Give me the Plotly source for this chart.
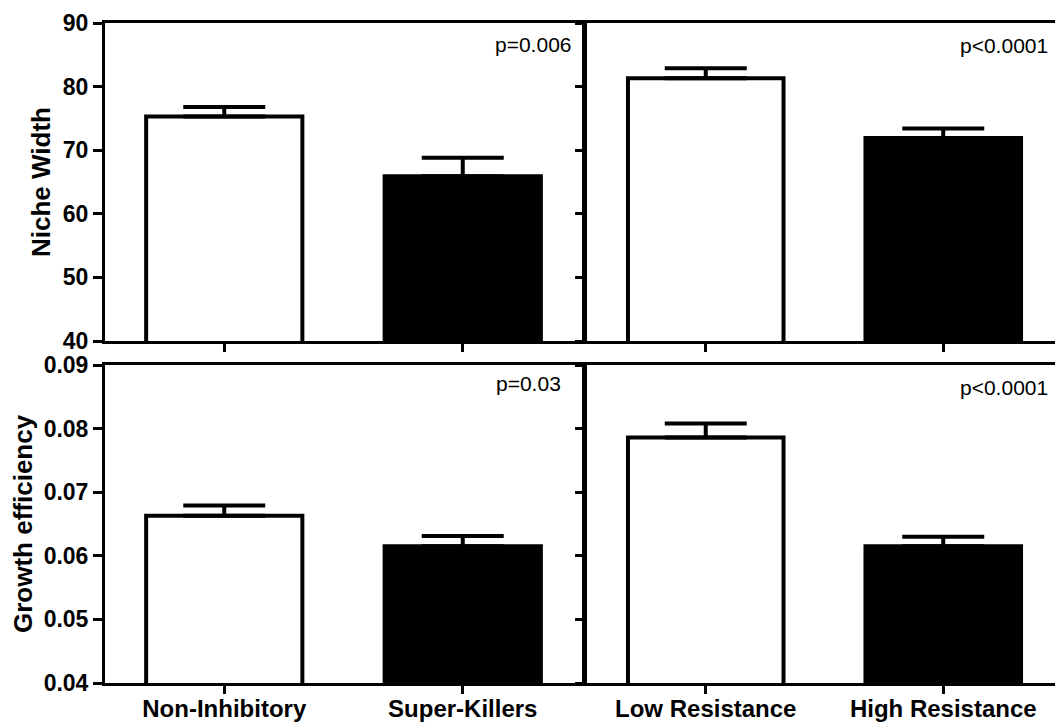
import plotly.graph_objects as go

# ---- data ----
cats_left = ["Non-Inhibitory", "Super-Killers"]
cats_right = ["Low Resistance", "High Resistance"]
niche_left = [75.3, 65.9]
niche_left_err = [1.5, 2.9]
niche_right = [81.3, 71.9]
niche_right_err = [1.6, 1.5]
growth_left = [0.0663, 0.0615]
growth_left_err = [0.0016, 0.0016]
growth_right = [0.0786, 0.0615]
growth_right_err = [0.0022, 0.0015]
p_labels = ["p=0.006", "p<0.0001", "p=0.03", "p<0.0001"]
niche_ticks = [40, 50, 60, 70, 80, 90]
growth_ticks = [0.04, 0.05, 0.06, 0.07, 0.08, 0.09]
colors = ["white", "black"]

FONT = "Liberation Sans, Arial, sans-serif"
OFF = 8  # page body margin
W, H = 1063 - OFF, 722 - OFF
ML, MR, MT, MB = 105 - OFF, 1, 23 - OFF, 722 - 683
PW = W - ML - MR
PH = H - MT - MB

def px_x(p):
    return (p - OFF - ML) / PW

def px_y(p):
    return (H - MB - (p - OFF)) / PH

fig = go.Figure()

panels = [
    (cats_left, niche_left, niche_left_err, "x", "y"),
    (cats_right, niche_right, niche_right_err, "x2", "y2"),
    (cats_left, growth_left, growth_left_err, "x3", "y3"),
    (cats_right, growth_right, growth_right_err, "x4", "y4"),
]
for cats, vals, errs, xa, ya in panels:
    fig.add_trace(go.Bar(
        x=cats, y=vals, width=0.655,
        marker=dict(color=colors, line=dict(color="black", width=4)),
        error_y=dict(type="data", symmetric=False, array=errs,
                     arrayminus=[0] * len(errs), color="black",
                     thickness=4, width=41),
        xaxis=xa, yaxis=ya, showlegend=False,
    ))

left_dom = [0, px_x(582)]
right_dom = [px_x(587), 1]
top_dom = [px_y(341), 1]
bot_dom = [0, px_y(365)]

common_x = dict(type="category", range=[-0.5, 1.5], showline=True, linewidth=3,
                linecolor="black", mirror=True, ticks="outside", ticklen=8,
                tickwidth=3, tickcolor="black", showgrid=False, zeroline=False,
                automargin=False, ticklabelstandoff=-6,
                tickfont=dict(family=FONT, size=24, color="black", weight="bold"))
common_y = dict(showline=True, linewidth=3, linecolor="black", mirror=True,
                ticks="outside", ticklen=9, tickwidth=3, tickcolor="black",
                showgrid=False, zeroline=False, automargin=False,
                tickfont=dict(family=FONT, size=23, color="black", weight="bold"))

fig.update_layout(
    width=W, height=H,
    margin=dict(l=ML, r=MR, t=MT, b=MB),
    paper_bgcolor="white", plot_bgcolor="white",
    font=dict(family=FONT, color="black"),
    xaxis=dict(common_x, domain=left_dom, anchor="y", showticklabels=False),
    xaxis2=dict(common_x, domain=right_dom, anchor="y2", showticklabels=False),
    xaxis3=dict(common_x, domain=left_dom, anchor="y3"),
    xaxis4=dict(common_x, domain=right_dom, anchor="y4"),
    yaxis=dict(common_y, domain=top_dom, anchor="x", range=[40, 90],
               tickvals=niche_ticks),
    yaxis2=dict(common_y, domain=top_dom, anchor="x2", range=[40, 90],
                tickvals=niche_ticks, showticklabels=False),
    yaxis3=dict(common_y, domain=bot_dom, anchor="x3", range=[0.04, 0.09],
                tickvals=growth_ticks, tickformat=".2f"),
    yaxis4=dict(common_y, domain=bot_dom, anchor="x4", range=[0.04, 0.09],
                tickvals=growth_ticks, showticklabels=False),
)

ann = []
ann.append(dict(text="Niche Width", x=px_x(41), y=px_y(182), textangle=-90,
                xanchor="center", font=dict(size=26, weight="bold")))
ann.append(dict(text="Growth efficiency", x=px_x(23), y=px_y(524), textangle=-90,
                xanchor="center", font=dict(size=26, weight="bold")))
p_pos = [(574, 44), (1050, 45), (563, 383), (1050, 387)]
for lab, (px, py) in zip(p_labels, p_pos):
    ann.append(dict(text=lab, x=px_x(px), y=px_y(py), xanchor="right",
                    font=dict(size=21)))
for a in ann:
    a.update(xref="paper", yref="paper", showarrow=False, yanchor="middle")
    a["font"].update(family=FONT, color="black")
fig.update_layout(annotations=ann)

fig.write_html("out.html")
